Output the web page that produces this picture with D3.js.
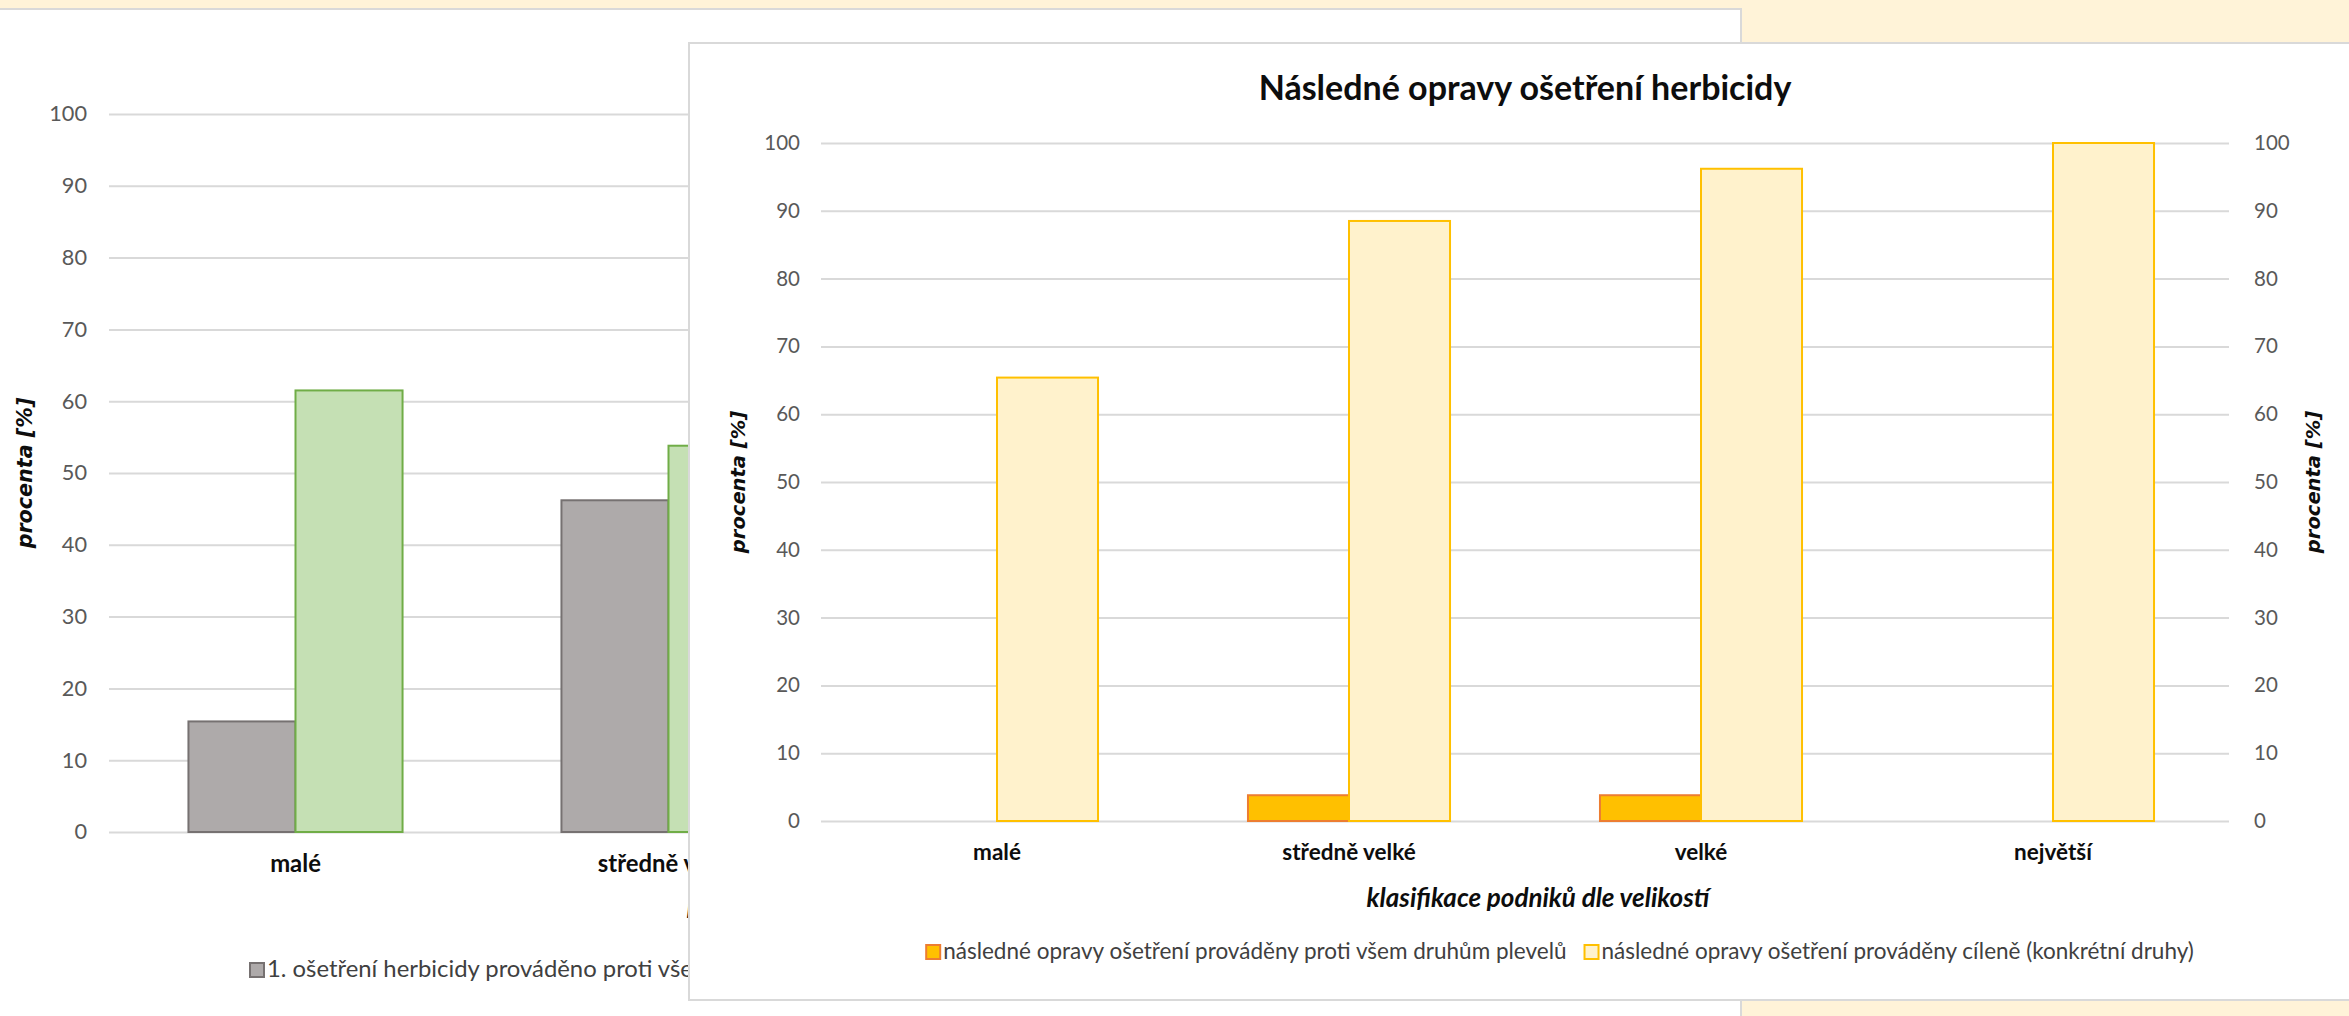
<!DOCTYPE html>
<html>
<head>
<meta charset="utf-8">
<script src="https://cdn.jsdelivr.net/npm/d3@7"></script>
<style>
  html, body { margin: 0; padding: 0; background: #FFF3D8; }
  svg { display: block; }
  text { font-family: Lato, "Open Sans", sans-serif; }
</style>
</head>
<body>
<svg id="chart" width="2349" height="1016"></svg>
<script>
// Company size classes shared by both charts
const categories = ["malé", "středně velké", "velké", "největší"];
const yTicks = [0, 10, 20, 30, 40, 50, 60, 70, 80, 90, 100];

// Background chart: first herbicide treatment (only the first two classes are in view)
const backTitle = "1. ošetření herbicidy";
const backSeriesNames = [
  "1. ošetření herbicidy prováděno proti všem druhům plevelů",
  "1. ošetření herbicidy prováděno cíleně (konkrétní druhy)"
];
const backAllWeeds = [15.4, 46.2];
const backTargeted = [61.5, 53.8];

// Foreground chart: follow-up corrections of the herbicide treatment
const frontTitle = "Následné opravy ošetření herbicidy";
const frontSeriesNames = [
  "následné opravy ošetření prováděny proti všem druhům plevelů",
  "následné opravy ošetření prováděny cíleně (konkrétní druhy)"
];
const frontAllWeeds = [0, 3.8, 3.8, 0];
const frontTargeted = [65.4, 88.5, 96.2, 100];

const yTitle = "procenta [%]";
const xTitle = "klasifikace podniků dle velikostí";

const svg = d3.select("#chart");
const GRID = "#D9D9D9";
const TICK_TXT = "#595959";

// cream page background
svg.append("rect").attr("width", 2349).attr("height", 1016).attr("fill", "#FFF3D8");

// the background chart is only visible around the foreground panel
const clip = svg.append("defs").append("clipPath").attr("id", "backClip");
[[0, 0, 689, 1016], [0, 0, 1745, 43], [0, 1000, 1745, 16]].forEach(([cx, cy, cw, ch]) =>
  clip.append("rect").attr("x", cx).attr("y", cy).attr("width", cw).attr("height", ch));

function drawChart(g, cfg) {
  const fs = v => (v * cfg.fontScale) + "px";
  const x = d3.scaleBand().domain(categories).range([cfg.left, cfg.right]).padding(0);
  const gapFrac = 0.426;
  const inner = d3.scaleBand().domain([0, 1]).range([0, x.step() * (1 - gapFrac)]).padding(0);
  const y = d3.scaleLinear().domain([0, 100]).range([cfg.bottom, cfg.top]);

  // gridlines + left tick labels
  const ax = g.append("g")
    .attr("transform", `translate(${cfg.left},0)`)
    .call(d3.axisLeft(y).tickValues(yTicks).tickFormat(d3.format("d"))
      .tickSize(-(cfg.right - cfg.left)).tickPadding(cfg.tickPad));
  ax.select(".domain").remove();
  ax.selectAll("line").attr("stroke", GRID).attr("stroke-width", 2);
  ax.selectAll("text").attr("fill", TICK_TXT).style("font-size", fs(20.5))
    .style("font-family", "Lato, sans-serif");

  if (cfg.rightAxis) {
    const ar = g.append("g")
      .attr("transform", `translate(${cfg.right},0)`)
      .call(d3.axisRight(y).tickValues(yTicks).tickFormat(d3.format("d"))
        .tickSize(0).tickPadding(25));
    ar.select(".domain").remove();
    ar.selectAll("text").attr("fill", TICK_TXT).style("font-size", fs(20.5))
      .style("font-family", "Lato, sans-serif");
  }

  // bars
  const off = x.step() * gapFrac / 2;
  cfg.series.forEach((s, i) => {
    g.append("g").selectAll("rect")
      .data(s.values.map((v, k) => ({ c: categories[k], v })).filter(d => d.v > 0))
      .join("rect")
      .attr("x", d => x(d.c) + off + inner(i))
      .attr("width", inner.bandwidth())
      .attr("y", d => y(d.v))
      .attr("height", d => y(0) - y(d.v))
      .attr("fill", s.fill)
      .attr("stroke", s.stroke)
      .attr("stroke-width", 2);
  });

  // category labels (only for the classes this chart shows)
  const axb = g.append("g")
    .attr("transform", `translate(0,${cfg.bottom})`)
    .call(d3.axisBottom(x).tickValues(categories.slice(0, cfg.labelCount))
      .tickSize(0).tickPadding(cfg.catPad));
  axb.select(".domain").remove();
  axb.selectAll("text").attr("fill", "#0D0D0D").style("font-size", fs(22.5))
    .style("font-weight", "700").style("font-family", "Lato, sans-serif");

  // chart title
  g.append("text").attr("x", cfg.titleX).attr("y", cfg.titleY)
    .attr("text-anchor", "middle").attr("fill", "#0D0D0D")
    .style("font-size", "34px").style("font-weight", "700").text(cfg.title);

  // x axis title
  g.append("text").attr("x", cfg.xTitleX).attr("y", cfg.xTitleY)
    .attr("text-anchor", "middle").attr("fill", "#0D0D0D")
    .style("font-size", "26px").style("font-weight", "700").style("font-style", "italic")
    .text(xTitle);

  // y axis titles
  cfg.yTitleX.forEach(tx => {
    g.append("text")
      .attr("transform", `translate(${tx},${(cfg.top + cfg.bottom) / 2}) rotate(-90)`)
      .attr("text-anchor", "middle").attr("fill", "#0D0D0D")
      .style("font-family", "'DejaVu Sans', sans-serif")
      .style("font-size", fs(19.5)).style("font-weight", "700").style("font-style", "italic")
      .text(yTitle);
  });

  // legend
  const lg = g.append("g");
  const items = cfg.series.map((s, i) => {
    const t = lg.append("text").attr("y", cfg.legendY).attr("fill", "#404040")
      .style("font-size", fs(22.5)).text(s.name);
    return { s, t, w: t.node().getComputedTextLength() };
  });
  const sq = 14, sqGap = 3, itemGap = 18;
  const total = d3.sum(items, d => sq + sqGap + d.w) + itemGap * (items.length - 1);
  let cx = cfg.legendStart !== undefined ? cfg.legendStart : cfg.legendCenter - total / 2;
  items.forEach(d => {
    lg.append("rect").attr("x", cx).attr("y", cfg.legendY - 14).attr("width", sq).attr("height", sq)
      .attr("fill", d.s.fill).attr("stroke", d.s.stroke).attr("stroke-width", 2);
    d.t.attr("x", cx + sq + sqGap);
    cx += sq + sqGap + d.w + itemGap;
  });
}

// ---- background chart panel ----
svg.append("rect").attr("x", -3).attr("y", 9).attr("width", 1744).attr("height", 1020)
  .attr("fill", "#fff").attr("stroke", GRID).attr("stroke-width", 2);
drawChart(svg.append("g").attr("clip-path", "url(#backClip)"), {
  fontScale: 1.06,
  left: 109, right: 1601, top: 114, bottom: 832, tickPad: 22, catPad: 23,
  rightAxis: false, labelCount: 2,
  title: backTitle, titleX: 855, titleY: 72,
  xTitleX: 858, xTitleY: 918,
  yTitleX: [32],
  legendY: 977, legendStart: 250,
  series: [
    { name: backSeriesNames[0], values: backAllWeeds, fill: "#AEAAAA", stroke: "#767171" },
    { name: backSeriesNames[1], values: backTargeted, fill: "#C5E0B4", stroke: "#70AD47" }
  ]
});

// ---- foreground chart panel ----
svg.append("rect").attr("x", 689).attr("y", 43).attr("width", 1700).attr("height", 957)
  .attr("fill", "#fff").attr("stroke", GRID).attr("stroke-width", 2);
drawChart(svg.append("g"), {
  fontScale: 1,
  left: 821, right: 2229, top: 143, bottom: 821, tickPad: 21, catPad: 23,
  rightAxis: true, labelCount: 4,
  title: frontTitle, titleX: 1525, titleY: 100,
  xTitleX: 1538, xTitleY: 907,
  yTitleX: [745, 2320],
  legendY: 959, legendCenter: 1560,
  series: [
    { name: frontSeriesNames[0], values: frontAllWeeds, fill: "#FFC000", stroke: "#ED7D31" },
    { name: frontSeriesNames[1], values: frontTargeted, fill: "#FFF2CC", stroke: "#FFC000" }
  ]
});
</script>
</body>
</html>
